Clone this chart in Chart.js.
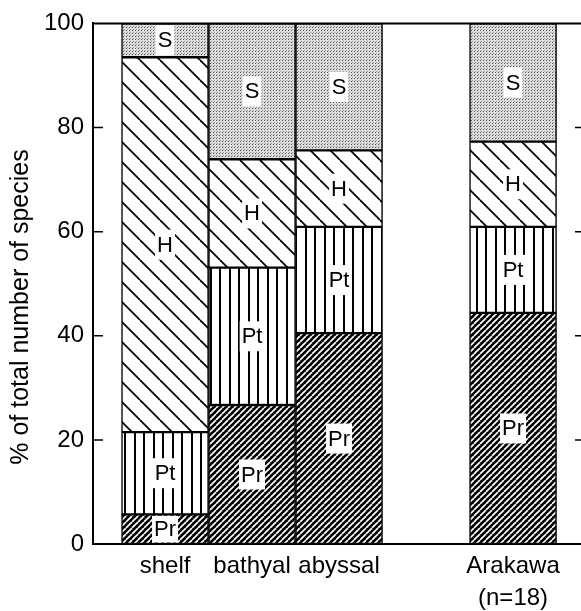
<!DOCTYPE html>
<html>
<head>
<meta charset="utf-8">
<script src="https://cdn.jsdelivr.net/npm/chart.js@4/dist/chart.umd.min.js"></script>
<style>
  html, body { margin: 0; padding: 0; background: #fff; overflow: hidden; }
  #wrap { position: absolute; left: 0; top: 0; width: 600px; height: 611px; }
</style>
</head>
<body>
<div id="wrap"><canvas id="chart"></canvas></div>
<script>
// categories and their slot on the x axis (slot 3 is left empty)
var categories = ["shelf", "bathyal", "abyssal", ["Arakawa", "(n=18)"]];
var positions = [0, 1, 2, 4];
var series_names = ["Pr", "Pt", "H", "S"];
// % of total number of species, stacked bottom to top
var pr_values = [5.7, 26.7, 40.5, 44.4];
var pt_values = [15.8, 26.4, 20.4, 16.5];
var h_values = [72.0, 20.8, 14.7, 16.4];
var s_values = [6.5, 26.1, 24.4, 22.7];
var y_ticks = [0, 20, 40, 60, 80, 100];
var y_title = "% of total number of species";

var FONT = "'Liberation Sans', Arial, Helvetica, sans-serif";

function makePattern(w, h, draw) {
    var c = document.createElement("canvas");
    c.width = w;
    c.height = h;
    var g = c.getContext("2d");
    draw(g, w, h);
    return c.getContext("2d").createPattern(c, "repeat");
}

// dark with thin white "/" lines
var prPattern = makePattern(6, 6, function (g, w, h) {
    g.fillStyle = "#000";
    g.fillRect(0, 0, w, h);
    g.strokeStyle = "#fff";
    g.lineWidth = 1.7;
    for (var k = -1; k <= 1; k++) {
        g.beginPath();
        g.moveTo(k * w, h);
        g.lineTo(k * w + w, 0);
        g.stroke();
    }
});
// vertical lines
var ptPattern = makePattern(19, 4, function (g, w, h) {
    g.fillStyle = "#fff";
    g.fillRect(0, 0, w, h);
    g.fillStyle = "#000";
    g.fillRect(1, 0, 2, h);
    g.fillRect(10, 0, 2, h);
});
// "\" lines, wide spacing
var hPattern = makePattern(20, 20, function (g, w, h) {
    g.fillStyle = "#fff";
    g.fillRect(0, 0, w, h);
    g.strokeStyle = "#000";
    g.lineWidth = 1.8;
    for (var k = -1; k <= 1; k++) {
        g.beginPath();
        g.moveTo(0, k * h);
        g.lineTo(w, k * h + h);
        g.stroke();
    }
});
// fine stipple
var sPattern = makePattern(3, 3, function (g, w, h) {
    g.fillStyle = "#dcdcdc";
    g.fillRect(0, 0, w, h);
    g.fillStyle = "#555";
    g.fillRect(0, 0, 1, 1);
    g.fillStyle = "#999";
    g.fillRect(1, 2, 1, 1);
});

function toPoints(values) {
    return values.map(function (v, i) { return { x: positions[i], y: v }; });
}

var all_values = [pr_values, pt_values, h_values, s_values];
var fills = [prPattern, ptPattern, hPattern, sPattern];
var datasets = series_names.map(function (name, i) {
    return {
        label: name,
        data: toPoints(all_values[i]),
        backgroundColor: fills[i],
        borderColor: "#000",
        borderWidth: 1.5,
        borderSkipped: false,
        barPercentage: 1,
        categoryPercentage: 1
    };
});

// segment labels on white boxes, inward ticks, top frame line, y title
var decorations = {
    id: "decorations",
    afterDatasetsDraw: function (chart) {
        var ctx = chart.ctx;
        ctx.save();
        ctx.font = "22px " + FONT;
        ctx.textAlign = "center";
        ctx.textBaseline = "middle";
        chart.data.datasets.forEach(function (ds, i) {
            var meta = chart.getDatasetMeta(i);
            meta.data.forEach(function (el) {
                var top = Math.min(el.y, el.base);
                var bottom = Math.max(el.y, el.base);
                var cy = (top + bottom) / 2;
                var tw = ctx.measureText(ds.label).width + 4;
                var bh = Math.min(30, bottom - top - 3);
                ctx.fillStyle = "#fff";
                ctx.fillRect(el.x - tw / 2, cy - bh / 2, tw, bh);
                ctx.fillStyle = "#000";
                ctx.fillText(ds.label, el.x, cy + 1);
            });
        });
        ctx.restore();
    },
    afterDraw: function (chart) {
        var ctx = chart.ctx;
        var area = chart.chartArea;
        var y = chart.scales.y;
        ctx.save();
        ctx.strokeStyle = "#000";
        ctx.lineWidth = 2;
        ctx.beginPath();
        ctx.moveTo(area.left - 1, area.top);
        ctx.lineTo(area.right, area.top);
        ctx.moveTo(area.right, area.top);
        ctx.lineTo(area.right, area.bottom);
        ctx.stroke();
        ctx.lineWidth = 1.5;
        y_ticks.forEach(function (v) {
            if (v === 0 || v === 100) return;
            var py = y.getPixelForValue(v);
            ctx.beginPath();
            ctx.moveTo(area.left, py);
            ctx.lineTo(area.left + 10, py);
            ctx.moveTo(area.right - 10, py);
            ctx.lineTo(area.right, py);
            ctx.stroke();
        });
        ctx.translate(21, 307);
        ctx.rotate(-Math.PI / 2);
        ctx.font = "25px " + FONT;
        ctx.fillStyle = "#000";
        ctx.textAlign = "center";
        ctx.textBaseline = "middle";
        ctx.fillText(y_title, 0, 0);
        ctx.restore();
    }
};

var chart = new Chart(document.getElementById("chart").getContext("2d"), {
    type: "bar",
    data: { datasets: datasets },
    options: {
        responsive: true,
        maintainAspectRatio: false,
        animation: false,
        layout: { padding: { left: 0, top: 15, right: 15, bottom: 0 } },
        plugins: { legend: { display: false }, tooltip: { enabled: false } },
        scales: {
            x: {
                type: "linear",
                stacked: true,
                offset: false,
                min: -0.828,
                max: 4.827,
                afterBuildTicks: function (scale) {
                    scale.ticks = positions.map(function (p) { return { value: p }; });
                },
                afterFit: function (scale) { scale.height = 67; },
                grid: { display: false, drawTicks: false, offset: false },
                border: { display: true, color: "#000", width: 2 },
                ticks: {
                    autoSkip: false,
                    maxRotation: 0,
                    padding: 6,
                    color: "#000",
                    font: { family: FONT, size: 24, lineHeight: 1.35 },
                    callback: function (value) {
                        var i = positions.indexOf(value);
                        return i >= 0 ? categories[i] : "";
                    }
                }
            },
            y: {
                stacked: true,
                min: 0,
                max: 100,
                afterBuildTicks: function (scale) {
                    scale.ticks = y_ticks.map(function (v) { return { value: v }; });
                },
                afterFit: function (scale) { scale.width = 93; },
                grid: { display: false, drawTicks: false },
                border: { display: true, color: "#000", width: 2 },
                ticks: {
                    padding: 9,
                    color: "#000",
                    font: { family: FONT, size: 24 }
                }
            }
        }
    },
    plugins: [decorations]
});
</script>
</body>
</html>
